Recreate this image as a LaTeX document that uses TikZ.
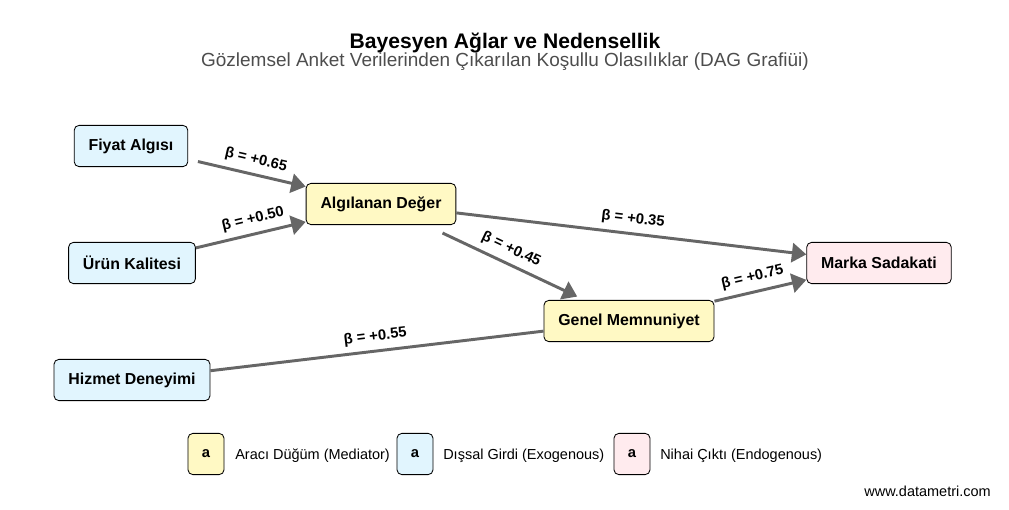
\documentclass[tikz,border=0pt]{standalone}
\usepackage{fontspec}
\setmainfont{Liberation Sans}
\usetikzlibrary{arrows.meta}
\definecolor{medfill}{HTML}{FFF9C4}
\definecolor{exofill}{HTML}{E1F5FE}
\definecolor{endfill}{HTML}{FFEBEE}
\definecolor{edgegray}{HTML}{666666}
\definecolor{subgray}{HTML}{4D4D4D}
\begin{document}
\begin{tikzpicture}[x=0.025cm,y=-0.025cm,>={Triangle[length=0.36cm,width=0.48cm]},
    var/.style={draw=black,line width=0.6pt,rounded corners=1.2mm,minimum height=1.03cm,inner xsep=0.36cm,font=\fontsize{11.3}{13}\selectfont\bfseries},
    effect/.style={->,draw=edgegray,line width=2.1pt},
    coef/.style={above=1pt,sloped,font=\fontsize{10.5}{12}\selectfont\bfseries},
    legbox/.style={draw=black,line width=0.6pt,rounded corners=1.2mm,minimum width=0.9cm,minimum height=1.03cm,font=\fontsize{10.5}{12}\selectfont\bfseries},
    legtext/.style={anchor=west,inner sep=0pt,font=\fontsize{10.3}{12}\selectfont}]
  \useasboundingbox (0,0) rectangle (1009,509);
  \node[font=\fontsize{15}{18}\selectfont\bfseries] (title) at (505,43) {Bayesyen Ağlar ve Nedensellik};
  \node[font=\fontsize{13.5}{16}\selectfont,text=subgray] (subtitle) at (505,62) {Gözlemsel Anket Verilerinden Çıkarılan Koşullu Olasılıklar (DAG Grafiüi)};
  \node[var,fill=exofill] (fiyat) at (131,146) {Fiyat Algısı};
  \node[var,fill=exofill] (urun) at (132,263) {Ürün Kalitesi};
  \node[var,fill=exofill] (hizmet) at (132,380) {Hizmet Deneyimi};
  \node[var,fill=medfill] (deger) at (381,204) {Algılanan Değer};
  \node[var,fill=medfill] (memnun) at (629,321) {Genel Memnuniyet};
  \node[var,fill=endfill] (sadakat) at (879,263) {Marka Sadakati};
  \draw[effect,shorten <=0.25cm] (fiyat) -- node[coef,pos=0.55] {β = +0.65} (deger);
  \draw[effect] (urun) -- node[coef,pos=0.55] {β = +0.50} (deger);
  \draw[effect] (deger) -- node[coef,midway] {β = +0.35} (sadakat);
  \draw[effect,shorten <=0.47cm,shorten >=0.2cm] (deger) -- node[coef,midway] {β = +0.45} (memnun);
  \draw[effect] (memnun) -- node[coef,pos=0.45] {β = +0.75} (sadakat);
  \draw[effect,-] (hizmet) -- node[coef,midway] {β = +0.55} (memnun);
  \node[legbox,fill=medfill] (lgmed) at (206,454) {a};
  \node[legtext] (lgmedtxt) at (235,456) {Aracı Düğüm (Mediator)};
  \node[legbox,fill=exofill] (lgexo) at (415,454) {a};
  \node[legtext] (lgexotxt) at (443,456) {Dışsal Girdi (Exogenous)};
  \node[legbox,fill=endfill] (lgend) at (632,454) {a};
  \node[legtext] (lgendtxt) at (660,456) {Nihai Çıktı (Endogenous)};
  \node[anchor=east,inner sep=0pt,font=\fontsize{10.3}{12}\selectfont] (site) at (991,491) {www.datametri.com};
\end{tikzpicture}
\end{document}
